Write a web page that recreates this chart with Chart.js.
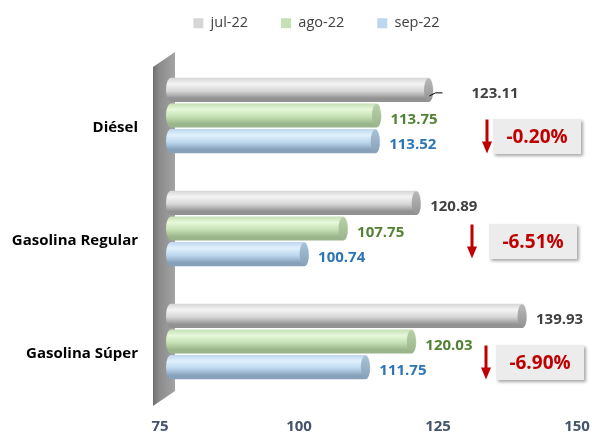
<!DOCTYPE html>
<html>
<head>
<meta charset="utf-8">
<script src="https://cdn.jsdelivr.net/npm/chart.js@4.4.1/dist/chart.umd.min.js"></script>
<style>
    html, body { margin: 0; padding: 0; background: #ffffff; overflow: hidden; }
    #wrap { width: 592px; height: 435px; position: relative; }
</style>
</head>
<body>
<div id="wrap"><canvas id="priceChart"></canvas></div>
<script>
// Precios por tipo de combustible
const categories = ['Diésel', 'Gasolina Regular', 'Gasolina Súper'];
const months = ['jul-22', 'ago-22', 'sep-22'];
const julValues = [123.11, 120.89, 139.93];
const agoValues = [113.75, 107.75, 120.03];
const sepValues = [113.52, 100.74, 111.75];
const changeLabels = ['-0.20%', '-6.51%', '-6.90%'];
const xTicks = [75, 100, 125, 150];

const FONT = "'Open Sans', 'Noto Sans', sans-serif";

// bar colours: legend/base, highlight, dark edge, label colour
const palette = [
    { base: '#d6d6d6', light: '#f4f4f4', dark: '#929292', cap: '#bababa', text: '#404040' },
    { base: '#c5e0b4', light: '#e6f8da', dark: '#9ab48b', cap: '#b9d1a8', text: '#548235' },
    { base: '#bdd7ee', light: '#e1f1fd', dark: '#86a1b9', cap: '#a9c2d6', text: '#2e75b6' }
];

// legend: fixed height, drawn a bit higher and to the right
const legendSpacing = {
    id: 'legendSpacing',
    beforeInit(chart) {
        const fit = chart.legend.fit;
        chart.legend.fit = function() {
            fit.bind(chart.legend)();
            this.height = 59;
        };
    },
    afterLayout(chart) {
        const lg = chart.legend;
        lg.top -= 17;
        lg.bottom -= 17;
        lg.left += 25;
        lg.right += 25;
    }
};

// grey back wall behind the bars
const wallPlugin = {
    id: 'wall',
    beforeDatasetsDraw(chart) {
        const { ctx, chartArea } = chart;
        const L = chartArea.left, T = chartArea.top, B = chartArea.bottom;
        ctx.save();
        const g = ctx.createLinearGradient(L - 13, 0, L + 9, 0);
        g.addColorStop(0, '#6f6f6f');
        g.addColorStop(0.3, '#8c8c8c');
        g.addColorStop(1, '#a3a3a3');
        ctx.fillStyle = g;
        ctx.beginPath();
        ctx.moveTo(L - 13, T + 8);
        ctx.lineTo(L + 9, T - 7);
        ctx.lineTo(L + 9, B - 7);
        ctx.lineTo(L - 13, B + 8);
        ctx.closePath();
        ctx.fill();
        ctx.restore();
    }
};

function drawCylinder(ctx, x0, x1, yc, h, c) {
    const rx = 5, ry = h / 2;
    if (x1 - x0 < rx * 2) x1 = x0 + rx * 2;
    ctx.save();
    const g = ctx.createLinearGradient(0, yc - ry, 0, yc + ry);
    g.addColorStop(0, c.base);
    g.addColorStop(0.25, c.light);
    g.addColorStop(0.55, c.base);
    g.addColorStop(0.85, c.dark);
    g.addColorStop(1, c.dark);
    ctx.fillStyle = g;
    ctx.beginPath();
    ctx.ellipse(x0 + rx, yc, rx, ry, 0, Math.PI / 2, Math.PI * 1.5);
    ctx.lineTo(x1 - rx, yc - ry);
    ctx.ellipse(x1 - rx, yc, rx, ry, 0, -Math.PI / 2, Math.PI / 2);
    ctx.closePath();
    ctx.fill();
    // end cap
    const cg = ctx.createLinearGradient(0, yc - ry, 0, yc + ry);
    cg.addColorStop(0, c.cap);
    cg.addColorStop(1, c.dark);
    ctx.fillStyle = cg;
    ctx.beginPath();
    ctx.ellipse(x1 - rx, yc, rx - 0.5, ry - 0.5, 0, 0, Math.PI * 2);
    ctx.fill();
    ctx.restore();
}

// cylinder bars drawn over the library's bar elements
const cylinderPlugin = {
    id: 'cylinders',
    beforeDatasetDraw(chart, args) {
        const ctx = chart.ctx;
        const c = palette[args.index];
        args.meta.data.forEach(function(bar) {
            const p = bar.getProps(['x', 'y', 'base', 'height'], true);
            drawCylinder(ctx, p.base, p.x, p.y, p.height, c);
        });
        return false;
    }
};

// value labels + change annotations
const labelPlugin = {
    id: 'labels',
    afterDatasetsDraw(chart) {
        const ctx = chart.ctx;
        ctx.save();
        ctx.font = 'bold 15px ' + FONT;
        ctx.textBaseline = 'middle';
        ctx.textAlign = 'left';
        chart.data.datasets.forEach(function(ds, di) {
            const meta = chart.getDatasetMeta(di);
            meta.data.forEach(function(bar, i) {
                const p = bar.getProps(['x', 'y'], true);
                let tx = p.x + 9, ty = p.y + 4;
                if (di === 0 && i === 0) {
                    // leader line on the first label
                    ctx.strokeStyle = '#000000';
                    ctx.lineWidth = 1;
                    ctx.beginPath();
                    ctx.moveTo(p.x - 4, p.y + 6);
                    ctx.lineTo(p.x + 2, p.y + 3);
                    ctx.lineTo(p.x + 9, p.y + 3);
                    ctx.stroke();
                    tx = p.x + 38;
                }
                ctx.fillStyle = palette[di].text;
                ctx.fillText(ds.data[i].toFixed(2), tx, ty);
            });
        });

        // % change boxes with down arrows
        const yScale = chart.scales.y;
        const boxSpots = [{ cx: 537, dy: 21, ax: 487 }, { cx: 533, dy: 13, ax: 472 }, { cx: 540, dy: 21, ax: 486 }];
        changeLabels.forEach(function(txt, i) {
            const s = boxSpots[i];
            const cy = yScale.getPixelForValue(i) + s.dy;
            const w = 88, h = 35;
            ctx.save();
            ctx.shadowColor = 'rgba(0,0,0,0.35)';
            ctx.shadowBlur = 3;
            ctx.shadowOffsetX = 2;
            ctx.shadowOffsetY = 2;
            ctx.fillStyle = '#ececec';
            ctx.fillRect(s.cx - w / 2, cy - h / 2, w, h);
            ctx.restore();
            ctx.fillStyle = '#c00000';
            ctx.font = 'bold 19px ' + FONT;
            ctx.textAlign = 'center';
            ctx.fillText(txt, s.cx, cy + 1);
            // arrow
            ctx.strokeStyle = '#c00000';
            ctx.lineWidth = 3;
            ctx.beginPath();
            ctx.moveTo(s.ax, cy - 17);
            ctx.lineTo(s.ax, cy + 7);
            ctx.stroke();
            ctx.beginPath();
            ctx.moveTo(s.ax - 5, cy + 5);
            ctx.lineTo(s.ax + 5, cy + 5);
            ctx.lineTo(s.ax, cy + 17);
            ctx.closePath();
            ctx.fill();
        });
        ctx.restore();
    }
};

const allSeries = [julValues, agoValues, sepValues];

new Chart(document.getElementById('priceChart').getContext('2d'), {
    type: 'bar',
    data: {
        labels: categories,
        datasets: allSeries.map(function(vals, i) {
            return {
                label: months[i],
                data: vals,
                backgroundColor: palette[i].base,
                borderWidth: 0,
                base: xTicks[0],
                categoryPercentage: 0.68,
                barPercentage: 0.94
            };
        })
    },
    options: {
        indexAxis: 'y',
        responsive: true,
        maintainAspectRatio: false,
        animation: false,
        layout: { autoPadding: false, padding: { top: 0, right: 9, bottom: 0, left: 0 } },
        plugins: {
            legend: {
                position: 'top',
                labels: {
                    boxWidth: 10,
                    boxHeight: 10,
                    padding: 33,
                    color: '#404040',
                    font: { family: FONT, size: 14.5 }
                }
            },
            tooltip: { enabled: false }
        },
        scales: {
            x: {
                min: xTicks[0],
                max: xTicks[xTicks.length - 1],
                afterBuildTicks: function(scale) {
                    scale.ticks = xTicks.map(function(v) { return { value: v }; });
                },
                afterFit: function(scale) {
                    scale.height = 35;
                    scale.paddingLeft = 0;
                    scale.paddingRight = 0;
                },
                grid: { display: false, drawTicks: false },
                border: { display: false },
                ticks: {
                    color: '#44546a',
                    padding: 20,
                    labelOffset: -6,
                    font: { family: FONT, size: 15, weight: 'bold' }
                }
            },
            y: {
                grid: { display: false, drawTicks: false },
                border: { display: false },
                afterFit: function(scale) { scale.width = 166; },
                ticks: {
                    color: '#000000',
                    padding: 28,
                    labelOffset: 12,
                    font: { family: FONT, size: 15, weight: 'bold' }
                }
            }
        }
    },
    plugins: [legendSpacing, wallPlugin, cylinderPlugin, labelPlugin]
});
</script>
</body>
</html>
